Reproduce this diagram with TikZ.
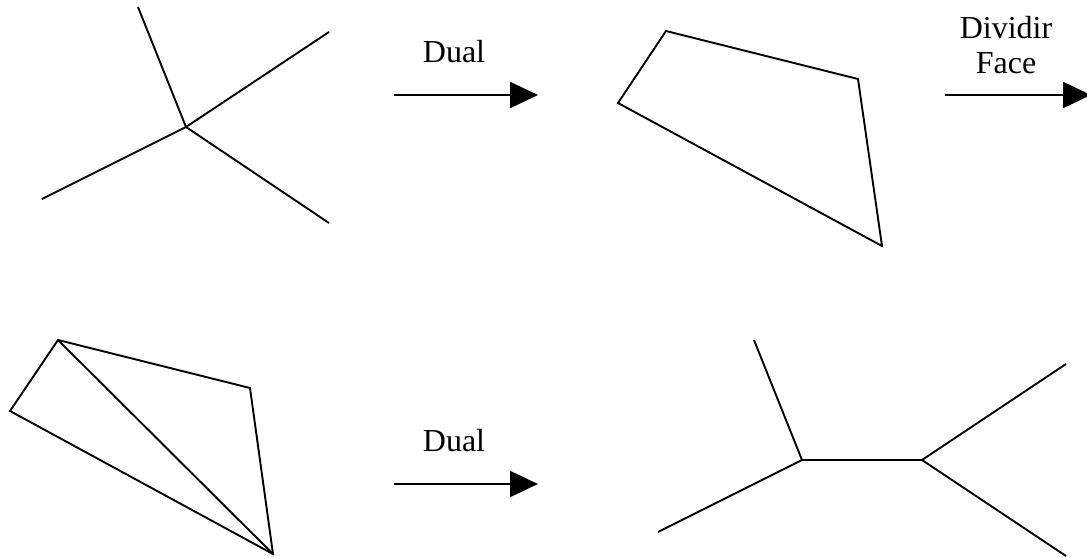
\documentclass[tikz,border=0pt]{standalone}
\usepackage{fontspec}
\setmainfont{Liberation Serif}
\usetikzlibrary{arrows.meta}
\begin{document}
\begin{tikzpicture}[x=1pt,y=-1pt,
  edge/.style={line width=1.9pt, line join=miter},
  flow/.style={line width=1.9pt, -{Triangle[length=28pt,width=26pt]}},
  lbl/.style={font=\fontsize{32}{35}\selectfont, anchor=base, inner sep=0pt, align=center}]
\useasboundingbox (0,0) rectangle (1087,557);

% --- star with one vertex (top left)
\coordinate (sc) at (186,127);
\coordinate (s1) at (138,7);
\coordinate (s2) at (329,32);
\coordinate (s3) at (42,199);
\coordinate (s4) at (329,223);
\draw[edge] (sc) -- (s1);
\draw[edge] (sc) -- (s2);
\draw[edge] (sc) -- (s3);
\draw[edge] (sc) -- (s4);

% --- first transformation
\coordinate (a1s) at (394,95);
\coordinate (a1e) at (538,95);
\draw[flow] (a1s) -- (a1e);
\node[lbl] (dual1) at (454,62) {Dual};

% --- quadrilateral (top right)
\coordinate (q1) at (666,31);
\coordinate (q2) at (858,79);
\coordinate (q3) at (882,246);
\coordinate (q4) at (618,103);
\draw[edge] (q1) -- (q2) -- (q3) -- (q4) -- cycle;

% --- face split (base anchor sits on the last line)
\coordinate (a2s) at (945,95);
\coordinate (a2e) at (1091,95);
\draw[flow] (a2s) -- (a2e);
\node[lbl] (split) at (1006,73) {Dividir\\Face};

% --- split quadrilateral (bottom left)
\coordinate (t1) at (58,340);
\coordinate (t2) at (250,388);
\coordinate (t3) at (273,554);
\coordinate (t4) at (10,411);
\draw[edge] (t1) -- (t2) -- (t3) -- (t4) -- cycle;
\draw[edge] (t1) -- (t3);

% --- second transformation
\coordinate (a3s) at (394,484);
\coordinate (a3e) at (538,484);
\draw[flow] (a3s) -- (a3e);
\node[lbl] (dual2) at (454,451) {Dual};

% --- tree with two vertices (bottom right)
\coordinate (u) at (802,460);
\coordinate (v) at (922,460);
\coordinate (u1) at (754,340);
\coordinate (u2) at (658,532);
\coordinate (v1) at (1066,364);
\coordinate (v2) at (1066,556);
\draw[edge] (u) -- (v);
\draw[edge] (u) -- (u1);
\draw[edge] (u) -- (u2);
\draw[edge] (v) -- (v1);
\draw[edge] (v) -- (v2);
\end{tikzpicture}
\end{document}
